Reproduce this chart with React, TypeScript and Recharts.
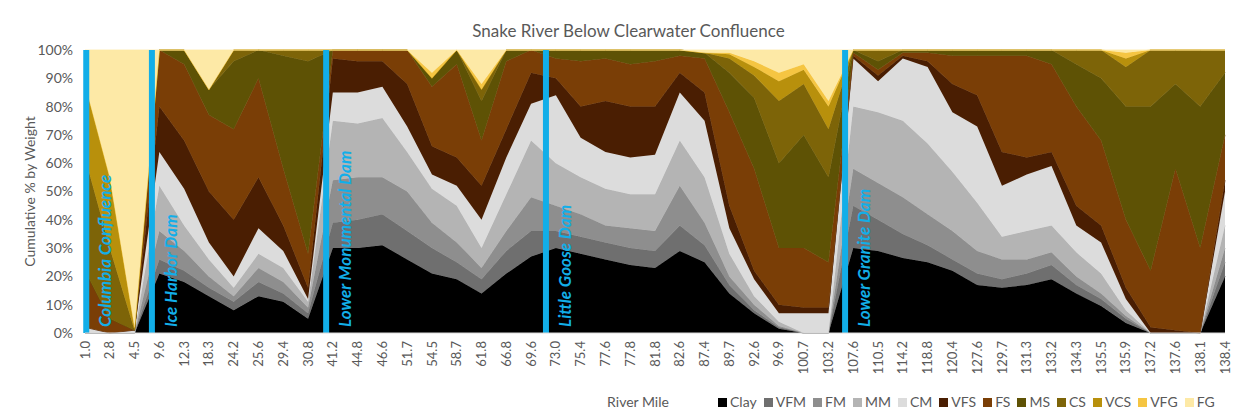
import { Area, AreaChart, Legend, ReferenceLine, XAxis, YAxis } from 'recharts'

// river miles (x categories)
const miles = [
  '1.0', '2.8', '4.5', '9.6', '12.3', '18.3', '24.2', '25.6', '29.4', '30.8',
  '41.2', '44.8', '46.6', '51.7', '54.5', '58.7', '61.8', '66.8', '69.6',
  '73.0', '75.4', '77.6', '77.8', '81.8', '82.6', '87.4', '89.7', '92.6', '96.9', '100.7', '103.2',
  '107.6', '110.5', '114.2', '118.8', '120.4', '127.6', '129.7', '131.3', '133.2', '134.3', '135.5',
  '135.9', '137.2', '137.6', '138.1', '138.4'
]

// % by weight per size class
const clay = [0, 0, 0, 21, 18, 13, 8, 13, 11, 5, 30, 30, 31, 26, 21, 19, 14, 21, 27, 30, 28, 26, 24, 23, 29, 25, 14, 7, 1.5, 0, 0, 30, 29, 26.5, 25, 22, 17, 16, 17, 19, 14, 9.5, 3.5, 0, 0, 0, 20]
const vfm = [0, 0, 0, 5, 4, 3, 3, 5, 3, 2, 9, 10, 11, 10, 9, 6, 5, 8, 9, 6, 6, 6, 6, 6, 9, 6, 3, 1, 0.5, 0, 0, 15, 11, 8.5, 6, 4, 4, 3, 4, 5, 3, 2.5, 1.5, 0, 0, 0, 5]
const fm = [0, 0, 0, 10, 7, 4, 2, 5, 4, 2, 15, 15, 13, 14, 9, 7, 4, 7, 12, 9, 8, 6, 7, 7, 14, 8, 3, 2, 0.5, 0, 0, 13, 13, 13, 11, 10, 8, 7, 5, 4.5, 3, 2, 1, 0, 0, 0, 5]
const mm = [0, 0, 0, 16, 9, 6, 3, 5, 5, 2, 21, 19, 21, 14, 12, 13, 7, 13, 20, 15, 13, 13, 12, 13, 16, 16, 8, 3, 1.5, 0, 0, 22, 25, 27, 25, 21, 17, 8, 10, 9.5, 8.5, 7, 2, 0, 0, 0, 8]
const cm = [2, 0, 1, 12, 13, 6, 4, 9, 6, 1, 10, 11, 11, 9, 5, 7, 10, 13, 13, 24, 14, 13, 13, 14, 17, 20, 9, 6, 3, 7, 7, 17, 11, 22, 27, 21, 27, 18, 20, 21, 9.5, 11, 4, 0, 0, 0, 12]
const vfs = [0, 0, 0, 16, 17, 18, 20, 18, 9, 4, 12, 11, 9, 15, 10, 10, 12, 10, 11, 6, 11, 18, 18, 17, 7, 10, 8, 3, 3, 2, 2, 1, 2, 1, 2, 10, 11, 12, 6, 5, 7, 6, 4, 2, 1, 0, 4]
const fs = [20, 5, 0, 20, 27, 27, 32, 35, 20, 12, 3, 4, 4, 12, 21, 33, 16, 24, 8, 7, 16, 15, 15, 16, 6, 12, 33, 36, 20, 21, 16, 1, 2, 1, 3, 10, 14, 34, 36, 31, 35, 30, 24, 20, 57, 30, 16]
const ms = [0, 0, 0, 0, 5, 9, 24, 10, 40, 68, 0, 0, 0, 0, 3, 5, 14, 4, 0, 3, 4, 3, 5, 4, 2, 2, 14, 25, 30, 40, 30, 1, 3, 1, 1, 2, 2, 2, 2, 5, 15, 22, 40, 58, 30, 50, 22]
const cs = [40, 25, 0, 0, 0, 0, 4, 0, 2, 4, 0, 0, 0, 0, 0, 0, 4, 0, 0, 0, 0, 0, 0, 0, 0, 0, 5, 8, 22, 18, 17, 0, 4, 0, 0, 0, 0, 0, 0, 0, 5, 10, 14, 20, 12, 20, 8]
const vcs = [26, 25, 1, 0, 0, 0, 0, 0, 0, 0, 0, 0, 0, 0, 0, 0, 0, 0, 0, 0, 0, 0, 0, 0, 0, 0, 1.5, 3, 7, 5, 8, 0, 0, 0, 0, 0, 0, 0, 0, 0, 0, 0, 3, 0, 0, 0, 0]
const vfg = [0, 0, 0, 0, 0, 0, 0, 0, 0, 0, 0, 0, 0, 0, 2, 0, 2, 0, 0, 0, 0, 0, 0, 0, 0, 0, 0.5, 2, 3, 2, 2, 0, 0, 0, 0, 0, 0, 0, 0, 0, 0, 0, 2, 0, 0, 0, 0]
const fg = [12, 45, 98, 0, 0, 14, 0, 0, 0, 0, 0, 0, 0, 0, 8, 0, 12, 0, 0, 0, 0, 0, 0, 0, 0, 1, 1, 4, 8, 5, 18, 0, 0, 0, 0, 0, 0, 0, 0, 0, 0, 0, 1, 0, 0, 0, 0]

const seriesNames = ['Clay', 'VFM', 'FM', 'MM', 'CM', 'VFS', 'FS', 'MS', 'CS', 'VCS', 'VFG', 'FG']
const seriesValues = [clay, vfm, fm, mm, cm, vfs, fs, ms, cs, vcs, vfg, fg]
const seriesColors = ['#000000', '#6f6f6f', '#8e8e8e', '#b4b4b4', '#dcdcdc', '#4a1e02', '#7a3e06', '#5e5205', '#7d6408', '#b8900c', '#f5c542', '#fde9a6']

const yTicks = [0, 0.1, 0.2, 0.3, 0.4, 0.5, 0.6, 0.7, 0.8, 0.9, 1]

// dam positions in river-mile index units
const damNames = ['Columbia Confluence', 'Ice Harbor Dam', 'Lower Monumental Dam', 'Little Goose Dam', 'Lower Granite Dam']
const damAt = [0.05, 2.7, 9.73, 18.6, 30.67]

const data = miles.map((mile, i) => {
  const row: Record<string, number | string> = { i, mile }
  seriesNames.forEach((name, s) => {
    row[name] = seriesValues[s][i]
  })
  return row
})

const FONT = 'Lato, sans-serif'
const GREY = '#595959'
const BLUE = '#12aee8'

const MileTick = (props: any) => {
  const { x, y, payload } = props
  return (
    <text x={x} y={y} transform={`rotate(-90, ${x}, ${y})`} textAnchor="end" dy="0.35em" fill={GREY} fontSize={13} fontFamily={FONT}>
      {miles[payload.value]}
    </text>
  )
}

const damLabel = (name: string) => (props: any) => {
  const { x, y, height } = props.viewBox
  return (
    <text transform={`translate(${x + 25}, ${y + height - 6}) rotate(-90)`} fill={BLUE} fontSize={17} fontWeight="bold" fontStyle="italic" fontFamily={FONT}>
      {name}
    </text>
  )
}

const yTitle = (props: any) => {
  const { x, y, height } = props.viewBox
  return (
    <text transform={`translate(${x + 27}, ${y + height / 2}) rotate(-90)`} textAnchor="middle" fill={GREY} fontSize={14} fontFamily={FONT}>
      Cumulative % by Weight
    </text>
  )
}

// axis title plus the outer chart frame
const xTitle = (props: any) => {
  const { x, y } = props.viewBox
  return (
    <g>
      <path d="M6.5 430 V6.5 H1253.5 V430" fill="none" stroke="#000" strokeWidth={3} />
      <text x={x + 553} y={y + 74} textAnchor="middle" fill={GREY} fontSize={14} fontFamily={FONT}>
        River Mile
      </text>
    </g>
  )
}

const LegendRow = () => (
  <div style={{ display: 'flex', alignItems: 'center', fontFamily: FONT, fontSize: 14, color: GREY, lineHeight: '18px', whiteSpace: 'nowrap' }}>
    {seriesNames.map((name, s) => (
      <span key={name} style={{ display: 'inline-flex', alignItems: 'center', marginRight: 7 }}>
        <span style={{ width: 9, height: 9, background: seriesColors[s], marginRight: 3, display: 'inline-block' }} />
        {name}
      </span>
    ))}
  </div>
)

const App = () => {
  return (
    <div style={{ position: 'relative', width: 1257, height: 419, margin: '-8px 0 0 -8px', background: '#fff', fontFamily: FONT, overflow: 'hidden' }}>
      <div style={{ position: 'absolute', top: 21, left: 0, width: '100%', textAlign: 'center', fontSize: 17, lineHeight: '20px', color: GREY }}>
        Snake River Below Clearwater Confluence
      </div>
      <AreaChart width={1257} height={419} data={data} stackOffset="expand" margin={{ top: 50, right: 32, bottom: 11, left: 8 }}>
        <XAxis
          type="number"
          dataKey="i"
          domain={[0, miles.length - 1]}
          ticks={miles.map((_, i) => i)}
          interval={0}
          height={75}
          axisLine={{ stroke: '#d9d9d9' }}
          tickLine={false}
          tick={(p: any) => <MileTick {...p} />}
          label={xTitle}
        />
        <YAxis
          type="number"
          domain={[0, 1]}
          ticks={yTicks}
          tickFormatter={(v: number) => `${Math.round(v * 100)}%`}
          width={77}
          axisLine={false}
          tickLine={false}
          tickSize={6}
          tickMargin={6}
          tick={{ fill: GREY, fontSize: 14, fontFamily: FONT }}
          label={yTitle}
        />
        {seriesNames.map((name, s) => (
          <Area
            key={name}
            type="linear"
            dataKey={name}
            stackId="grain"
            stroke={seriesColors[s]}
            strokeWidth={0.8}
            fill={seriesColors[s]}
            fillOpacity={1}
            dot={false}
            activeDot={false}
            isAnimationActive={false}
          />
        ))}
        {damNames.map((name, d) => (
          <ReferenceLine key={name} x={damAt[d]} stroke={BLUE} strokeWidth={6} label={damLabel(name)} />
        ))}
        <Legend
          layout="horizontal"
          verticalAlign="middle"
          align="center"
          wrapperStyle={{ top: 393, left: 718, width: 530 }}
          content={() => <LegendRow />}
        />
      </AreaChart>
    </div>
  )
}

export default App
